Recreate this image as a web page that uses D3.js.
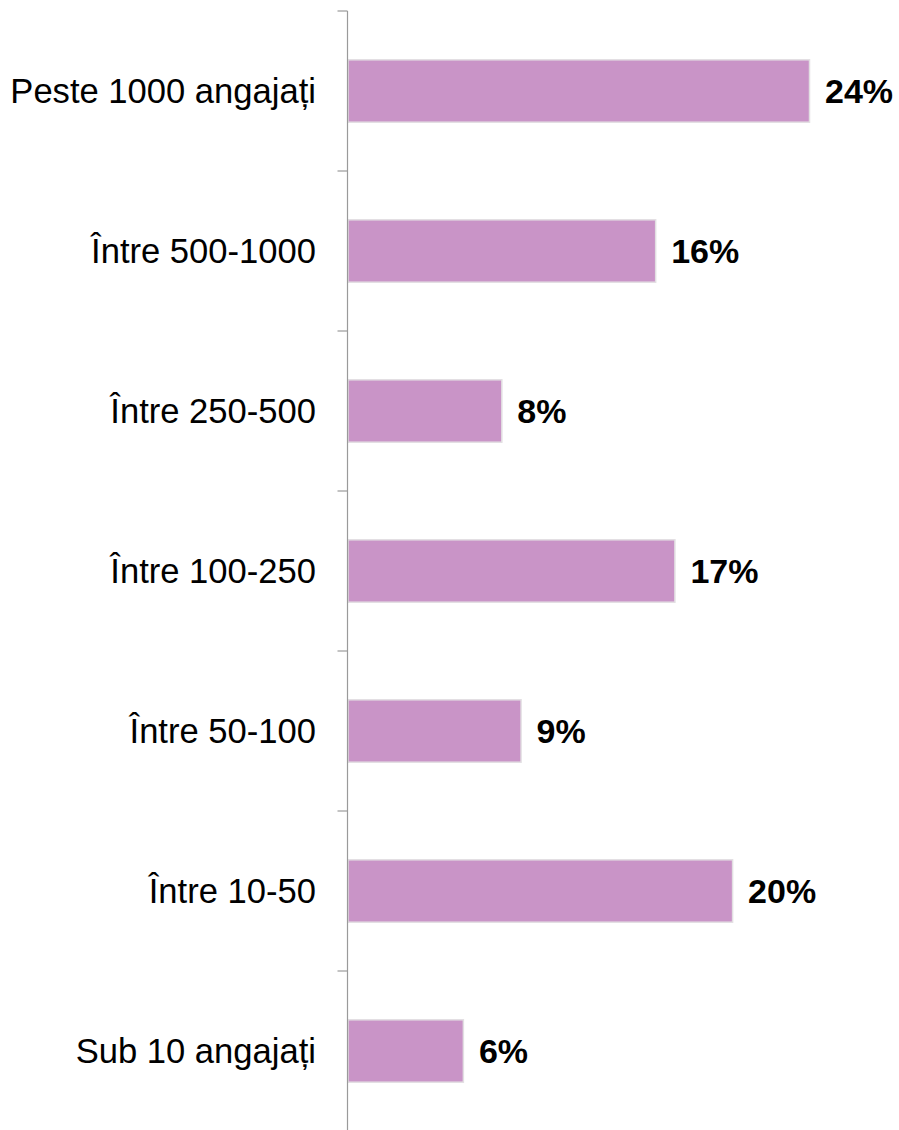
<!DOCTYPE html>
<html>
<head>
<meta charset="utf-8">
<script src="https://cdn.jsdelivr.net/npm/d3@7"></script>
<style>
  html, body { margin: 0; padding: 0; background: #ffffff; }
  svg { display: block; }
</style>
</head>
<body>
<div id="chart"></div>
<script>
// Company size categories, top to bottom
const categories = [
  "Peste 1000 angajați",
  "Între 500-1000",
  "Între 250-500",
  "Între 100-250",
  "Între 50-100",
  "Între 10-50",
  "Sub 10 angajați"
];
// Share of respondents (%)
const values = [24, 16, 8, 17, 9, 20, 6];

const width = 899, height = 1130;
const axisX = 347.5;
const plotTop = 11, plotBottom = 1131;

const svg = d3.select("#chart").append("svg")
  .attr("width", width)
  .attr("height", height);

const y = d3.scaleBand()
  .domain(categories)
  .range([plotTop, plotBottom])
  .padding(0);

const x = d3.scaleLinear()
  .domain([0, 24])
  .range([axisX, 809]);

const barH = y.bandwidth() * 0.39;
const font = "'Liberation Sans', Arial, sans-serif";

// Bars
svg.append("g").selectAll("rect")
  .data(categories)
  .join("rect")
  .attr("x", x(0) + 0.5)
  .attr("y", d => y(d) + y.bandwidth() / 2 - barH / 2)
  .attr("width", (d, i) => x(values[i]) - x(0))
  .attr("height", barH)
  .attr("fill", "#c994c7")
  .attr("stroke", "#e2dfe2")
  .attr("stroke-width", 1.5);

// Category axis: vertical line with ticks at band boundaries
const axis = svg.append("g").attr("stroke", "#9a9a9a").attr("stroke-width", 1.2);
axis.append("line")
  .attr("x1", axisX).attr("x2", axisX)
  .attr("y1", plotTop).attr("y2", plotBottom);
axis.selectAll("line.tick")
  .data(categories)
  .join("line")
  .attr("class", "tick")
  .attr("x1", axisX - 10).attr("x2", axisX)
  .attr("y1", d => y(d)).attr("y2", d => y(d));

// Category labels
svg.append("g").selectAll("text")
  .data(categories)
  .join("text")
  .attr("x", 316)
  .attr("y", d => y(d) + y.bandwidth() / 2)
  .attr("dy", "0.35em")
  .attr("text-anchor", "end")
  .attr("font-family", font)
  .attr("font-size", 34.6)
  .attr("fill", "#000")
  .text(d => d);

// Value labels
svg.append("g").selectAll("text")
  .data(categories)
  .join("text")
  .attr("x", (d, i) => x(values[i]) + 16)
  .attr("y", d => y(d) + y.bandwidth() / 2)
  .attr("dy", "0.35em")
  .attr("font-family", font)
  .attr("font-size", 34)
  .attr("font-weight", "bold")
  .attr("fill", "#000")
  .text((d, i) => values[i] + "%");
</script>
</body>
</html>
